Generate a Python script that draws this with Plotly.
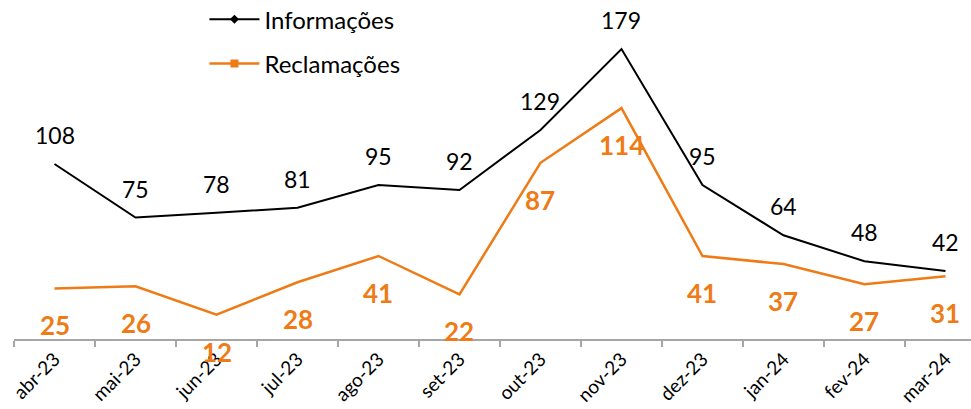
import plotly.graph_objects as go

months = ["abr-23", "mai-23", "jun-23", "jul-23", "ago-23", "set-23",
          "out-23", "nov-23", "dez-23", "jan-24", "fev-24", "mar-24"]
informacoes = [108, 75, 78, 81, 95, 92, 129, 179, 95, 64, 48, 42]
reclamacoes = [25, 26, 12, 28, 41, 22, 87, 114, 41, 37, 27, 31]

BLACK = "#000000"
ORANGE = "#EE7B16"
FONT = "Lato, Carlito, Calibri, sans-serif"

fig = go.Figure()
fig.add_trace(go.Scatter(x=months, y=informacoes, mode="lines",
                         line=dict(color=BLACK, width=2), showlegend=False,
                         yaxis="y", hoverinfo="x+y"))
fig.add_trace(go.Scatter(x=months, y=reclamacoes, mode="lines",
                         line=dict(color=ORANGE, width=2.5), showlegend=False,
                         yaxis="y2", hoverinfo="x+y"))
# legend-only entries
fig.add_trace(go.Scatter(x=[None], y=[None], mode="lines+markers", name="Informações",
                         line=dict(color=BLACK, width=2),
                         marker=dict(symbol="diamond", size=7, color=BLACK),
                         legendgroup="a"))
fig.add_trace(go.Scatter(x=[None], y=[None], mode="lines+markers", name="Reclamações",
                         line=dict(color=ORANGE, width=2.5),
                         marker=dict(symbol="square", size=8, color=ORANGE),
                         legendgroup="b"))

annotations = []
for m, v in zip(months, informacoes):
    annotations.append(dict(x=m, y=v, xref="x", yref="y", text=str(v), showarrow=False,
                            yshift=29, font=dict(family=FONT, size=23, color=BLACK)))
for m, v in zip(months, reclamacoes):
    annotations.append(dict(x=m, y=v, xref="x", yref="y2", text="<b>%d</b>" % v, showarrow=False,
                            yshift=-37, font=dict(family=FONT, size=26, color=ORANGE)))

fig.update_layout(
    width=971, height=409,
    margin=dict(l=14, r=0, t=15, b=70, autoexpand=False),
    paper_bgcolor="white", plot_bgcolor="white",
    font=dict(family=FONT, color="#000000"),
    showlegend=True,
    legend=dict(x=0.199, y=1.055, xanchor="left", yanchor="top",
                font=dict(family=FONT, size=24, color=BLACK),
                bgcolor="rgba(0,0,0,0)", tracegroupgap=10, itemwidth=50),
    xaxis=dict(type="category", categoryorder="array", categoryarray=months,
               range=[-0.5, 11.315], showgrid=False, zeroline=False, automargin=False,
               showline=True, linecolor="#A6A6A6", linewidth=1.5,
               ticks="outside", tickson="boundaries", ticklen=6, tickcolor="#A6A6A6", tickwidth=1.5,
               tickangle=-45, tickfont=dict(family=FONT, size=19, color=BLACK)),
    yaxis=dict(range=[0, 200], visible=False, automargin=False),
    yaxis2=dict(range=[0, 160], visible=False, overlaying="y", side="right", automargin=False),
    annotations=annotations,
)

# remove the browser's default 8px body margin so the figure fills the window exactly
fig.write_html("out.html", config={"displayModeBar": False},
               post_script="document.body.style.margin='0';document.body.style.overflow='hidden';")
